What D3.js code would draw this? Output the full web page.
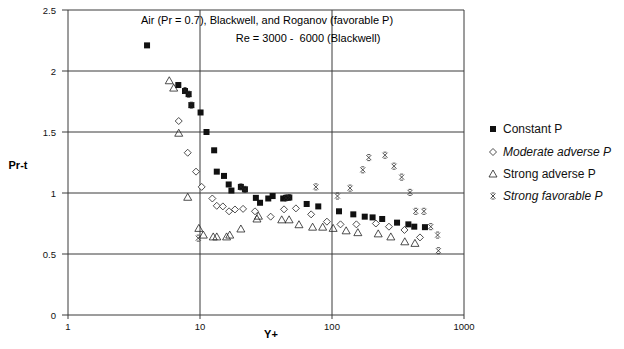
<!DOCTYPE html>
<html><head><meta charset="utf-8">
<script src="https://cdn.jsdelivr.net/npm/d3@7"></script>
<style>
body{margin:0;background:#fff;}
svg{display:block;font-family:"Liberation Sans",Arial,Helvetica,sans-serif;}
text{white-space:pre;}
</style></head><body>
<svg id="c" width="624" height="349"></svg>
<script>
// Data (Y+, Pr-t)
const constantP = [[3.97,2.21],[6.85,1.885],[7.7,1.836],[8.2,1.81],[8.6,1.72],[10.1,1.66],[11.2,1.50],[12.8,1.35],[13.4,1.175],[15.2,1.14],[16.5,1.07],[17.3,1.02],[20.4,1.05],[21.9,1.03],[26.5,0.96],[28.5,0.92],[32.9,0.955],[35.5,0.975],[42.7,0.955],[44.8,0.96],[47.5,0.963],[64.3,0.91],[78.7,0.89],[113,0.85],[145,0.825],[177,0.806],[203,0.8],[240,0.787],[311,0.757],[379,0.743],[420,0.724],[506,0.72]];
const moderateAdverse = [[6.9,1.59],[8.07,1.33],[9.33,1.175],[10.3,1.05],[12.4,0.955],[13.4,0.895],[14.9,0.89],[16.6,0.85],[18.4,0.865],[21.2,0.87],[26.1,0.85],[34.3,0.806],[43.3,0.866],[53.3,0.874],[69.5,0.825],[91.5,0.765],[116,0.743],[153,0.743],[215,0.75],[270,0.724],[354,0.697],[464,0.636]];
const strongAdverse = [[5.85,1.92],[6.32,1.86],[6.9,1.49],[8.07,0.965],[9.8,0.71],[10.6,0.655],[12.6,0.64],[13.4,0.64],[15.9,0.64],[16.8,0.655],[20.4,0.705],[27,0.787],[27.7,0.81],[41.6,0.78],[47.3,0.78],[56.2,0.74],[71.3,0.72],[85,0.72],[102,0.71],[128,0.69],[157,0.675],[224,0.665],[279,0.64],[356,0.6],[425,0.587]];
const strongFavorable = [[7.7,1.84],[8.2,1.81],[8.6,1.72],[9.7,0.63],[20.4,1.05],[21.9,1.03],[44.8,0.96],[47.5,0.963],[75.5,1.05],[110,0.975],[137,1.04],[171,1.19],[190,1.29],[252,1.31],[295,1.22],[337,1.13],[390,1.005],[431,0.85],[497,0.85],[560,0.724],[631,0.655],[640,0.527]];
const xTicks = [1,10,100,1000];
const xTickLabels = ["1","10","100","1000"];
const yTicks = [0,0.5,1,1.5,2,2.5];
const yTickLabels = ["0","0.5","1","1.5","2","2.5"];
const seriesNames = ["Constant P","Moderate adverse P","Strong adverse P","Strong favorable P"];
const titleLines = ["Air (Pr = 0.7), Blackwell, and Roganov (favorable P)","Re = 3000 -  6000 (Blackwell)"];

const svg = d3.select("#c");
const x = d3.scaleLog().domain([1,1000]).range([68,464]);
const y = d3.scaleLinear().domain([0,2.5]).range([315,10]);

// gridlines
const g = svg.append("g");
g.selectAll("line.h").data(yTicks).join("line")
  .attr("x1",62).attr("x2",464).attr("y1",d=>y(d)).attr("y2",d=>y(d))
  .attr("stroke","#3a3a3a").attr("stroke-width",1);
g.selectAll("line.v").data(xTicks).join("line")
  .attr("x1",d=>x(d)).attr("x2",d=>x(d)).attr("y1",y(2.5)).attr("y2",319)
  .attr("stroke","#3a3a3a").attr("stroke-width",1);

// tick labels
svg.selectAll("text.yt").data(yTicks).join("text")
  .attr("x",56).attr("y",d=>y(d)+3.5).attr("text-anchor","end")
  .attr("font-size",9.5).attr("fill","#111").text((d,i)=>yTickLabels[i]);
svg.selectAll("text.xt").data(xTicks).join("text")
  .attr("x",d=>x(d)).attr("y",330).attr("text-anchor","middle")
  .attr("font-size",9.5).attr("fill","#111").text((d,i)=>xTickLabels[i]);

// axis titles
svg.append("text").attr("x",18).attr("y",169).attr("text-anchor","middle")
  .attr("font-size",11).attr("font-weight","bold").text("Pr-t");
svg.append("text").attr("x",271).attr("y",338).attr("text-anchor","middle")
  .attr("font-size",11).attr("font-weight","bold").text("Y+");

// title
svg.append("text").attr("x",267).attr("y",24).attr("text-anchor","middle")
  .attr("font-size",11).text(titleLines[0]);
svg.append("text").attr("x",308).attr("y",42).attr("text-anchor","middle")
  .attr("font-size",11).text(titleLines[1]);

// marker drawers
function sq(sel){ sel.append("rect").attr("x",-3).attr("y",-3).attr("width",6).attr("height",6).attr("fill","#111"); }
function dia(sel){ sel.append("path").attr("d","M0,-3.5L3.5,0L0,3.5L-3.5,0Z").attr("fill","#fff").attr("stroke","#222").attr("stroke-width",0.8); }
function tri(sel){ sel.append("path").attr("d","M0,-4L4,3L-4,3Z").attr("fill","none").attr("stroke","#222").attr("stroke-width",0.8); }
function xm(sel){ sel.append("path").attr("d","M-2.5,-2.5L2.5,2.5M2.5,-2.5L-2.5,2.5M-1.5,-3L1.5,-3M-1.5,3L1.5,3").attr("fill","none").attr("stroke","#222").attr("stroke-width",0.8); }
const drawers = [sq,dia,tri,xm];
const allSeries = [constantP,moderateAdverse,strongAdverse,strongFavorable];

// draw in order: triangles, diamonds, squares, x marks
[2,1,0,3].forEach(si=>{
  svg.append("g").selectAll("g").data(allSeries[si]).join("g")
    .attr("transform",d=>`translate(${x(d[0])},${y(d[1])})`)
    .each(function(){ drawers[si](d3.select(this)); });
});

// legend
const leg = svg.append("g");
const legY = [129,152,174,196];
const italic = [false,true,false,true];
seriesNames.forEach((n,i)=>{
  const gg = leg.append("g").attr("transform",`translate(493,${legY[i]})`);
  drawers[i](gg);
  leg.append("text").attr("x",503).attr("y",legY[i]+4).attr("font-size",12)
    .attr("font-style",italic[i]?"italic":"normal").attr("fill","#111").text(n);
});
</script></body></html>
